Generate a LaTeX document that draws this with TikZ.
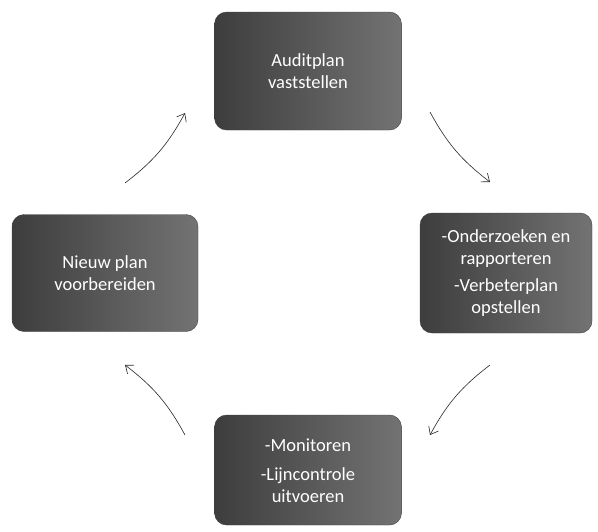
\documentclass[tikz,border=0pt]{standalone}
\usepackage{fontspec}
\setmainfont{Carlito}
\usetikzlibrary{arrows.meta}
\tikzset{
  stepbox/.style={rounded corners=12pt, left color=black!76, right color=black!55,
    draw=black!75, text=white, align=center, inner sep=0pt,
    font=\fontsize{18.5}{22}\selectfont, minimum width=187pt, minimum height=118pt},
  cyclearrow/.style={-{Straight Barb[length=7pt,width=11pt]}, semithick, black!85}
}
\begin{document}
\begin{tikzpicture}[x=1pt,y=-1pt]
    \useasboundingbox (0,0) rectangle (598,531);
    \node[stepbox] (audit) at (308,71) {Auditplan\\vaststellen};
    \node[stepbox, minimum width=172pt, minimum height=120pt] (onderzoek) at (506,273)
        {-Onderzoeken en\\rapporteren\\[5pt]-Verbeterplan\\opstellen};
    \node[stepbox, minimum height=110pt] (monitor) at (308,470)
        {\\[-8pt]-Monitoren\\[7pt]-Lijncontrole\\uitvoeren};
    \node[stepbox, minimum width=186pt, minimum height=117pt] (nieuw) at (105,273)
        {Nieuw plan\\voorbereiden};
    \coordinate (a1) at (125,183);
    \coordinate (a2) at (185,113);
    \coordinate (b1) at (430,112);
    \coordinate (b2) at (490,182);
    \coordinate (c1) at (490,365);
    \coordinate (c2) at (430,435);
    \coordinate (d1) at (185,435);
    \coordinate (d2) at (125,365);
    \draw[cyclearrow] (a1) to[bend right=12] (a2);
    \draw[cyclearrow] (b1) to[bend right=12] (b2);
    \draw[cyclearrow] (c1) to[bend right=12] (c2);
    \draw[cyclearrow] (d1) to[bend right=12] (d2);
\end{tikzpicture}
\end{document}
